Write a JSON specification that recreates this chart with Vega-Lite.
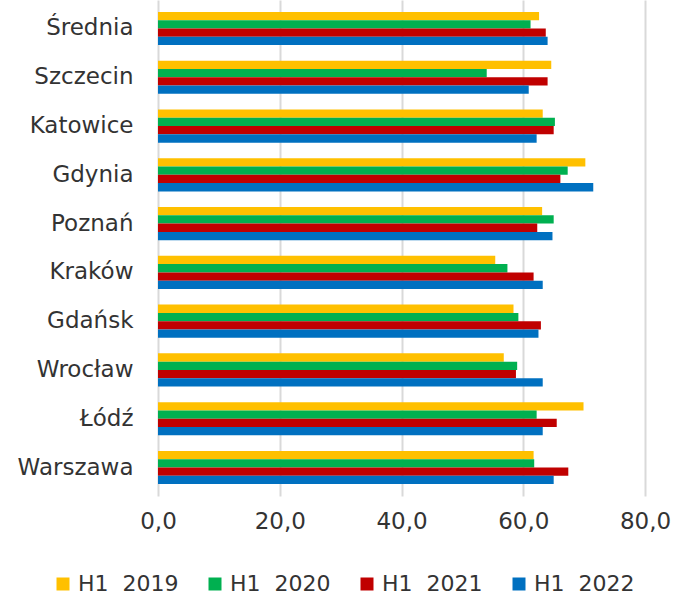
{
  "$schema": "https://vega.github.io/schema/vega-lite/v6.json",
  "autosize": "none",
  "width": 487,
  "height": 496,
  "padding": {"left": 158, "top": 0, "right": 31, "bottom": 99},
  "background": "white",
  "config": {
    "font": "DejaVu Sans",
    "view": {"stroke": null},
    "axis": {"labelFont": "DejaVu Sans"},
    "legend": {"labelFont": "DejaVu Sans"}
  },
  "datasets": {
    "rows": [
      {"city": "Średnia", "period": "H1\u00a0 2019", "value": 62.6},
      {"city": "Średnia", "period": "H1\u00a0 2020", "value": 61.2},
      {"city": "Średnia", "period": "H1\u00a0 2021", "value": 63.7},
      {"city": "Średnia", "period": "H1\u00a0 2022", "value": 64.0},
      {"city": "Szczecin", "period": "H1\u00a0 2019", "value": 64.6},
      {"city": "Szczecin", "period": "H1\u00a0 2020", "value": 54.0},
      {"city": "Szczecin", "period": "H1\u00a0 2021", "value": 64.0},
      {"city": "Szczecin", "period": "H1\u00a0 2022", "value": 60.9},
      {"city": "Katowice", "period": "H1\u00a0 2019", "value": 63.2},
      {"city": "Katowice", "period": "H1\u00a0 2020", "value": 65.2},
      {"city": "Katowice", "period": "H1\u00a0 2021", "value": 65.0},
      {"city": "Katowice", "period": "H1\u00a0 2022", "value": 62.2},
      {"city": "Gdynia", "period": "H1\u00a0 2019", "value": 70.2},
      {"city": "Gdynia", "period": "H1\u00a0 2020", "value": 67.3},
      {"city": "Gdynia", "period": "H1\u00a0 2021", "value": 66.1},
      {"city": "Gdynia", "period": "H1\u00a0 2022", "value": 71.5},
      {"city": "Poznań", "period": "H1\u00a0 2019", "value": 63.1},
      {"city": "Poznań", "period": "H1\u00a0 2020", "value": 65.0},
      {"city": "Poznań", "period": "H1\u00a0 2021", "value": 62.3},
      {"city": "Poznań", "period": "H1\u00a0 2022", "value": 64.8},
      {"city": "Kraków", "period": "H1\u00a0 2019", "value": 55.4},
      {"city": "Kraków", "period": "H1\u00a0 2020", "value": 57.4},
      {"city": "Kraków", "period": "H1\u00a0 2021", "value": 61.7},
      {"city": "Kraków", "period": "H1\u00a0 2022", "value": 63.2},
      {"city": "Gdańsk", "period": "H1\u00a0 2019", "value": 58.4},
      {"city": "Gdańsk", "period": "H1\u00a0 2020", "value": 59.2},
      {"city": "Gdańsk", "period": "H1\u00a0 2021", "value": 62.9},
      {"city": "Gdańsk", "period": "H1\u00a0 2022", "value": 62.5},
      {"city": "Wrocław", "period": "H1\u00a0 2019", "value": 56.8},
      {"city": "Wrocław", "period": "H1\u00a0 2020", "value": 59.0},
      {"city": "Wrocław", "period": "H1\u00a0 2021", "value": 58.8},
      {"city": "Wrocław", "period": "H1\u00a0 2022", "value": 63.2},
      {"city": "Łódź", "period": "H1\u00a0 2019", "value": 69.9},
      {"city": "Łódź", "period": "H1\u00a0 2020", "value": 62.2},
      {"city": "Łódź", "period": "H1\u00a0 2021", "value": 65.5},
      {"city": "Łódź", "period": "H1\u00a0 2022", "value": 63.2},
      {"city": "Warszawa", "period": "H1\u00a0 2019", "value": 61.7},
      {"city": "Warszawa", "period": "H1\u00a0 2020", "value": 61.8},
      {"city": "Warszawa", "period": "H1\u00a0 2021", "value": 67.4},
      {"city": "Warszawa", "period": "H1\u00a0 2022", "value": 65.0}
    ]
  },
  "data": {"name": "rows"},
  "mark": {"type": "bar"},
  "encoding": {
    "y": {
      "field": "city",
      "type": "nominal",
      "sort": ["Średnia", "Szczecin", "Katowice", "Gdynia", "Poznań", "Kraków", "Gdańsk", "Wrocław", "Łódź", "Warszawa"],
      "scale": {"paddingInner": 0.32, "paddingOuter": 0.244},
      "axis": {
        "title": null,
        "domain": false,
        "ticks": false,
        "labelPadding": 25,
        "labelFontSize": 23,
        "labelColor": "#333333"
      }
    },
    "yOffset": {
      "field": "period",
      "type": "nominal",
      "sort": ["H1\u00a0 2019", "H1\u00a0 2020", "H1\u00a0 2021", "H1\u00a0 2022"]
    },
    "x": {
      "field": "value",
      "type": "quantitative",
      "scale": {"domain": [0, 80], "nice": false},
      "axis": {
        "title": null,
        "values": [0, 20, 40, 60, 80],
        "labelExpr": "replace(format(datum.value, '.1f'), '.', ',')",
        "domain": false,
        "ticks": false,
        "grid": true,
        "gridColor": "#d9d9d9",
        "gridWidth": 2,
        "labelPadding": 14,
        "labelFontSize": 23,
        "labelColor": "#333333",
        "labelFlush": false
      }
    },
    "color": {
      "field": "period",
      "type": "nominal",
      "sort": ["H1\u00a0 2019", "H1\u00a0 2020", "H1\u00a0 2021", "H1\u00a0 2022"],
      "scale": {
        "domain": ["H1\u00a0 2019", "H1\u00a0 2020", "H1\u00a0 2021", "H1\u00a0 2022"],
        "range": ["#FFC000", "#00B050", "#C00000", "#0070C0"]
      },
      "legend": {
        "title": null,
        "orient": "none",
        "direction": "horizontal",
        "columns": 4,
        "legendX": -106,
        "legendY": 573,
        "padding": 0,
        "symbolType": "square",
        "symbolSize": 169,
        "symbolStrokeWidth": 0,
        "labelFontSize": 22,
        "labelLimit": 250,
        "labelColor": "#333333",
        "labelOffset": 4,
        "columnPadding": 25
      }
    }
  }
}
